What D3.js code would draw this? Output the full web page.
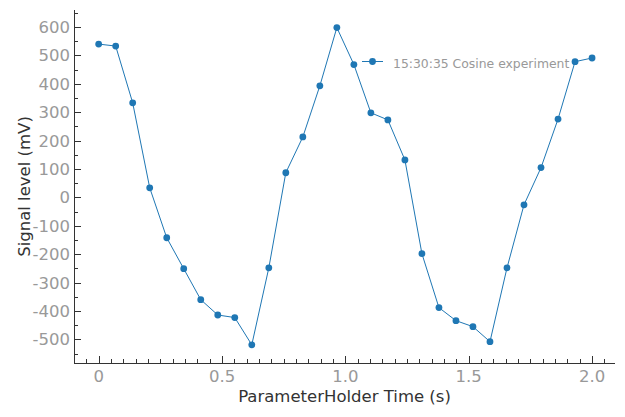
<!DOCTYPE html>
<html>
<head>
<meta charset="utf-8">
<script src="https://cdn.jsdelivr.net/npm/d3@7"></script>
<style>
html,body{margin:0;padding:0;background:#fff;}
svg{display:block;font-family:"DejaVu Sans",sans-serif;}
</style>
</head>
<body>
<svg id="chart" width="625" height="417"></svg>
<script>
const seriesName = "15:30:35 Cosine experiment";
const timeValues = [0.0000,0.0690,0.1379,0.2069,0.2759,0.3448,0.4138,0.4828,0.5517,0.6207,
  0.6897,0.7586,0.8276,0.8966,0.9655,1.0345,1.1034,1.1724,1.2414,1.3103,
  1.3793,1.4483,1.5172,1.5862,1.6552,1.7241,1.7931,1.8621,1.9310,2.0000];
const signalValues = [540,533,333,34,-142,-251,-360,-414,-423,-519,
  -248,87,213,393,598,468,298,273,132,-198,
  -388,-434,-455,-508,-248,-26,105,276,478,491];
const xTickValues = [0,0.5,1.0,1.5,2.0];
const xTickLabels = ["0","0.5","1.0","1.5","2.0"];
const yTickValues = [-500,-400,-300,-200,-100,0,100,200,300,400,500,600];
const xLabel = "ParameterHolder Time (s)";
const yLabel = "Signal level (mV)";

(function(){
const svg = d3.select("#chart");
const pl = 74, pr = 615, pt = 10, pb = 363;
const x = d3.scaleLinear().domain([-0.1, 2.093]).range([pl, pr]);
const y = d3.scaleLinear().domain([-583, 660]).range([pb, pt]);
const axisColor = "#333";
const tickTextColor = "#999";
const blue = "#1f77b4";
const fs = 16.5;

// axes lines
svg.append("line").attr("x1", pl + 0.5).attr("x2", pl + 0.5).attr("y1", pt).attr("y2", pb)
  .attr("stroke", axisColor).attr("stroke-width", 1);
svg.append("line").attr("x1", pl).attr("x2", pr).attr("y1", pb + 0.5).attr("y2", pb + 0.5)
  .attr("stroke", axisColor).attr("stroke-width", 1);

// x ticks
const xMinor = d3.range(-0.05, 2.09, 0.05).filter(v => xTickValues.every(t => Math.abs(t - v) > 1e-6));
svg.append("g").selectAll("line").data(xMinor).join("line")
  .attr("x1", d => Math.round(x(d)) + 0.5).attr("x2", d => Math.round(x(d)) + 0.5)
  .attr("y1", pb).attr("y2", pb - 4).attr("stroke", axisColor);
svg.append("g").selectAll("line").data(xTickValues).join("line")
  .attr("x1", d => Math.round(x(d)) + 0.5).attr("x2", d => Math.round(x(d)) + 0.5)
  .attr("y1", pb).attr("y2", pb - 7).attr("stroke", axisColor);
svg.append("g").selectAll("text").data(xTickValues).join("text")
  .attr("x", d => x(d)).attr("y", 381.5).attr("text-anchor", "middle")
  .attr("font-size", fs).attr("fill", tickTextColor)
  .text((d, i) => xTickLabels[i]);

// y ticks
const yMinor = d3.range(-550, 660, 50).filter(v => v % 100 !== 0);
svg.append("g").selectAll("line").data(yMinor).join("line")
  .attr("y1", d => Math.round(y(d)) + 0.5).attr("y2", d => Math.round(y(d)) + 0.5)
  .attr("x1", pl).attr("x2", pl + 4).attr("stroke", axisColor);
svg.append("g").selectAll("line").data(yTickValues).join("line")
  .attr("y1", d => Math.round(y(d)) + 0.5).attr("y2", d => Math.round(y(d)) + 0.5)
  .attr("x1", pl).attr("x2", pl + 7).attr("stroke", axisColor);
svg.append("g").selectAll("text").data(yTickValues).join("text")
  .attr("x", 70).attr("y", d => y(d) + 6).attr("text-anchor", "end")
  .attr("font-size", fs).attr("fill", tickTextColor)
  .text(d => d);

// axis titles
svg.append("text").attr("x", (pl + pr) / 2).attr("y", 402).attr("text-anchor", "middle")
  .attr("font-size", fs).attr("fill", "#333").text(xLabel);
svg.append("text").attr("transform", `translate(30,${(pt + pb) / 2}) rotate(-90)`)
  .attr("text-anchor", "middle").attr("font-size", fs).attr("fill", "#333").text(yLabel);

// series
const data = timeValues.map((t, i) => ({t, v: signalValues[i]}));
svg.append("path").datum(data)
  .attr("d", d3.line().x(d => x(d.t)).y(d => y(d.v)))
  .attr("fill", "none").attr("stroke", blue).attr("stroke-width", 1);
svg.append("g").selectAll("circle").data(data).join("circle")
  .attr("cx", d => x(d.t)).attr("cy", d => y(d.v)).attr("r", 3.4).attr("fill", blue);

// legend
const lg = svg.append("g").attr("transform", "translate(362,61.5)");
lg.append("line").attr("x1", 0).attr("x2", 21).attr("y1", 0).attr("y2", 0)
  .attr("stroke", blue).attr("stroke-width", 1);
lg.append("circle").attr("cx", 10.5).attr("cy", 0).attr("r", 3.4).attr("fill", blue);
lg.append("text").attr("x", 31).attr("y", 6.5).attr("font-size", 12.4)
  .attr("fill", tickTextColor).text(seriesName);
})();
</script>
</body>
</html>
